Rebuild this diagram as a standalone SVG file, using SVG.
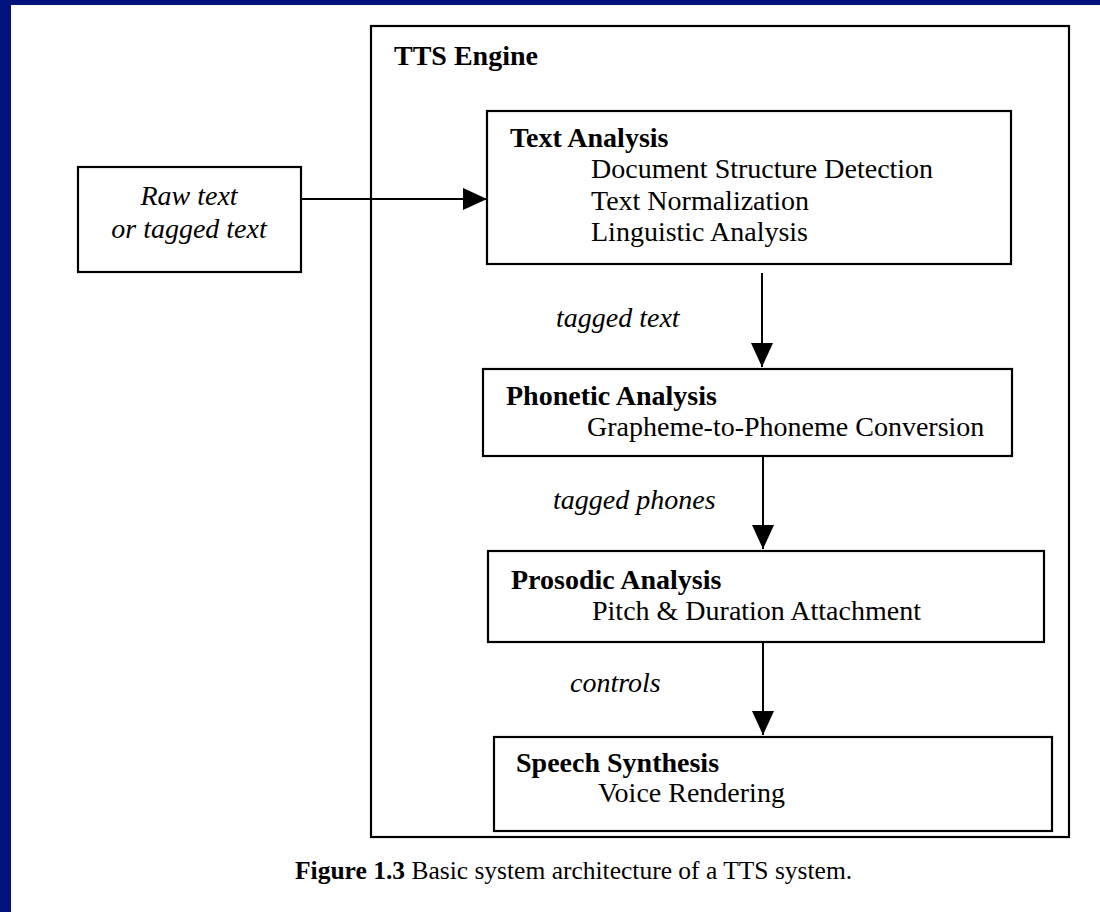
<svg xmlns="http://www.w3.org/2000/svg" width="1100" height="912" viewBox="0 0 1100 912">
<style>
.box{fill:none;stroke:#000;stroke-width:2.2}
.t{font-family:"Liberation Serif","Times New Roman",serif;font-size:28px;fill:#000}
.b{font-weight:bold}
.i{font-style:italic}
.ln{stroke:#000;stroke-width:2;fill:none}
</style>
<defs>
<marker id="ah" viewBox="0 0 24 22" refX="24" refY="11" markerWidth="24" markerHeight="22" markerUnits="userSpaceOnUse" orient="auto">
<path d="M0,0 L24,11 L0,22 Z" fill="#000"/>
</marker>
</defs>
<rect x="0" y="0" width="1100" height="912" fill="#fff"/>
<rect x="0" y="0" width="1100" height="5" fill="#02137e"/>
<rect x="0" y="0" width="11" height="912" fill="#02137e"/>

<g id="tts-engine">
<rect class="box" x="371" y="26" width="698" height="811" stroke-width="2.5"/>
<text class="t b" x="394" y="65">TTS Engine</text>
</g>
<g id="raw-text">
<rect class="box" x="78" y="167" width="223" height="105"/>
<text class="t i" x="189" y="205" text-anchor="middle">Raw text</text>
<text class="t i" x="189" y="238" text-anchor="middle">or tagged text</text>
</g>
<g id="text-analysis">
<rect class="box" x="487" y="111" width="524" height="153"/>
<text class="t b" x="510" y="147">Text Analysis</text>
<text class="t" x="591" y="178">Document Structure Detection</text>
<text class="t" x="591" y="210">Text Normalization</text>
<text class="t" x="591" y="241">Linguistic Analysis</text>
</g>
<g id="phonetic-analysis">
<rect class="box" x="483" y="369" width="529" height="87"/>
<text class="t b" x="506" y="405">Phonetic Analysis</text>
<text class="t" x="587" y="436">Grapheme-to-Phoneme Conversion</text>
</g>
<g id="prosodic-analysis">
<rect class="box" x="488" y="551" width="556" height="91"/>
<text class="t b" x="511" y="589">Prosodic Analysis</text>
<text class="t" x="592" y="620">Pitch &amp; Duration Attachment</text>
</g>
<g id="speech-synthesis">
<rect class="box" x="494" y="737" width="558" height="94"/>
<text class="t b" x="516" y="772">Speech Synthesis</text>
<text class="t" x="598" y="802">Voice Rendering</text>
</g>
<g id="connectors">
<line class="ln" x1="301" y1="199" x2="487" y2="199" marker-end="url(#ah)"/>
<line class="ln" x1="762" y1="273" x2="762" y2="367" marker-end="url(#ah)"/>
<line class="ln" x1="763" y1="456" x2="763" y2="549" marker-end="url(#ah)"/>
<line class="ln" x1="763" y1="642" x2="763" y2="735" marker-end="url(#ah)"/>
<text class="t i" x="556" y="327">tagged text</text>
<text class="t i" x="553" y="509">tagged phones</text>
<text class="t i" x="570" y="692">controls</text>
</g>
<text class="t" x="295" y="879" style="font-size:25.5px"><tspan class="b">Figure 1.3</tspan> Basic system architecture of a TTS system.</text>
</svg>
